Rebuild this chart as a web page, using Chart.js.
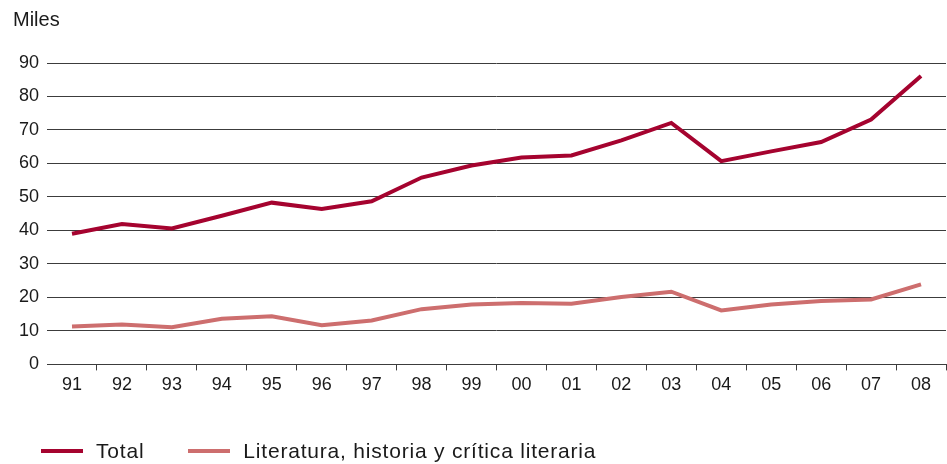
<!DOCTYPE html>
<html>
<head>
<meta charset="utf-8">
<script src="https://cdn.jsdelivr.net/npm/chart.js@4.4.1/dist/chart.umd.min.js"></script>
<style>
  body { margin: 0; background: #fff; }
  #wrap { position: relative; width: 947px; height: 464px; font-family: "Liberation Sans", Arial, sans-serif; color: #1a1a1a; }
  #chart { position: absolute; left: 0; top: 0; }
  #unit { position: absolute; left: 13px; top: 8px; font-size: 20px; line-height: 23px; }
  #legend { position: absolute; left: 41px; top: 439px; font-size: 21px; line-height: 24px; letter-spacing: 0.8px; display: flex; align-items: center; }
  .sw { display: inline-block; width: 42px; height: 4px; margin-right: 13px; }
  .item { display: flex; align-items: center; margin-right: 44px; }
</style>
</head>
<body>
<div id="wrap">
  <canvas id="chart" width="947" height="464"></canvas>
  <div id="unit">Miles</div>
  <div id="legend"></div>
</div>
<script>
// Datos
const years = ['91', '92', '93', '94', '95', '96', '97', '98', '99', '00', '01', '02', '03', '04', '05', '06', '07', '08'];
const total = [39.0, 41.9, 40.6, 44.4, 48.3, 46.4, 48.7, 55.8, 59.4, 61.8, 62.4, 66.9, 72.1, 60.7, 63.6, 66.4, 73.1, 86.1];
const literatura = [11.3, 11.9, 11.1, 13.6, 14.4, 11.7, 13.1, 16.5, 17.9, 18.3, 18.1, 20.1, 21.7, 16.1, 17.9, 18.9, 19.4, 23.9];
const yTicks = [0, 10, 20, 30, 40, 50, 60, 70, 80, 90];

const series = [
    { label: 'Total', data: total, color: '#a5032f' },
    { label: 'Literatura, historia y crítica literaria', data: literatura, color: '#cd6e6e' }
];

const fontFamily = '"Liberation Sans", Arial, sans-serif';
const gridColor = '#3c3c3c';

// Leyenda
const legendEl = document.getElementById('legend');
series.forEach(s => {
    const item = document.createElement('span');
    item.className = 'item';
    item.innerHTML = '<span class="sw" style="background:' + s.color + '"></span>' + s.label;
    legendEl.appendChild(item);
});

const ctx = document.getElementById('chart').getContext('2d');
new Chart(ctx, {
    type: 'line',
    data: {
        labels: years,
        datasets: series.map(s => ({
            label: s.label,
            data: s.data,
            borderColor: s.color,
            backgroundColor: s.color,
            borderWidth: 4,
            pointRadius: 0,
            tension: 0,
            borderJoinStyle: 'miter'
        }))
    },
    options: {
        responsive: false,
        animation: false,
        layout: {
            padding: { left: 11, right: 1, top: 63, bottom: 64 }
        },
        plugins: {
            legend: { display: false },
            tooltip: { enabled: false },
            title: { display: false }
        },
        scales: {
            x: {
                offset: true,
                grid: {
                    offset: true,
                    drawOnChartArea: false,
                    drawTicks: true,
                    tickLength: 6,
                    color: gridColor,
                    // sin marcas en los extremos del eje
                    tickColor: c => (c.index === 0 || c.index >= years.length) ? 'rgba(0,0,0,0)' : gridColor
                },
                border: { display: true, color: gridColor, width: 1 },
                ticks: {
                    color: '#1a1a1a',
                    padding: 4,
                    maxRotation: 0,
                    autoSkip: false,
                    font: { family: fontFamily, size: 18 }
                }
            },
            y: {
                min: 0,
                max: 90,
                afterBuildTicks: axis => {
                    axis.ticks = yTicks.map(v => ({ value: v }));
                },
                grid: {
                    color: gridColor,
                    lineWidth: 1,
                    drawTicks: false
                },
                border: { display: false },
                ticks: {
                    color: '#1a1a1a',
                    padding: 8,
                    font: { family: fontFamily, size: 18 }
                }
            }
        }
    }
});
</script>
</body>
</html>
